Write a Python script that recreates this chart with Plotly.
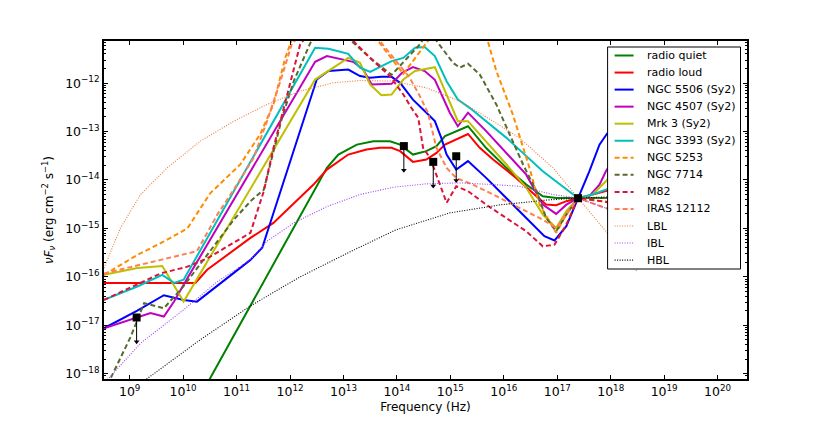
import numpy as np
import plotly.graph_objects as go

# all values are log10(nu / Hz) and log10(nuFnu / erg cm^-2 s^-1)
rq_x = [10.0, 12.69, 12.905, 13.25, 13.56, 13.87, 14.06, 14.30, 14.55, 14.74, 14.90, 15.33, 15.67, 16.05, 16.42, 16.73, 16.98, 17.39, 17.91, 18.3]
rq_y = [-19.1, -13.75, -13.475, -13.27, -13.20, -13.20, -13.27, -13.475, -13.405, -13.30, -13.095, -12.89, -13.34, -13.75, -14.095, -14.335, -14.37, -14.376, -14.37, -14.37]

rl_x = [8.52, 10.23, 10.45, 11.26, 11.69, 12.44, 12.69, 13.09, 13.43, 13.68, 13.90, 14.06, 14.30, 14.55, 14.74, 14.90, 15.33, 15.55, 15.80, 16.23, 16.61, 16.79, 16.98, 17.17, 17.39, 17.66, 17.91, 18.2]
rl_y = [-16.126, -16.126, -15.855, -15.196, -14.886, -14.095, -13.785, -13.475, -13.372, -13.337, -13.337, -13.405, -13.626, -13.578, -13.44, -13.27, -13.05, -13.337, -13.578, -13.957, -14.335, -14.508, -14.52, -14.438, -14.376, -14.30, -14.23, -14.1]

n5506_x = [8.52, 9.144, 9.64, 10.01, 10.26, 11.26, 11.48, 12.50, 12.72, 13.09, 13.31, 13.50, 13.71, 13.90, 14.06, 14.30, 14.49, 14.71, 14.83, 14.93, 15.11, 15.33, 15.67, 16.05, 16.42, 16.76, 16.95, 17.17, 17.39, 17.60, 17.79, 17.94]
n5506_y = [-17.062, -16.698, -16.38, -16.477, -16.512, -15.65, -15.40, -11.926, -11.75, -11.72, -11.855, -11.89, -11.87, -11.87, -11.994, -12.34, -12.545, -12.785, -13.13, -13.475, -13.785, -13.61, -13.957, -14.37, -14.78, -15.16, -15.25, -14.955, -14.376, -13.82, -13.27, -13.03]

n4507_x = [8.52, 9.144, 9.39, 9.64, 9.83, 10.08, 12.47, 12.69, 13.18, 13.37, 13.53, 13.90, 14.09, 14.30, 14.52, 14.71, 14.86, 14.99, 15.14, 15.33, 15.67, 16.05, 16.42, 16.73, 16.98, 17.17, 17.39, 17.60, 17.79, 17.91, 18.1]
n4507_y = [-17.062, -16.835, -16.75, -16.82, -16.51, -16.03, -11.56, -11.44, -11.56, -11.72, -12.03, -12.015, -11.79, -11.67, -11.75, -11.93, -12.30, -12.61, -12.89, -12.61, -12.99, -13.44, -13.89, -14.51, -14.70, -14.51, -14.376, -14.335, -14.095, -13.82, -13.5]

mrk3_x = [8.52, 9.144, 9.61, 10.01, 12.47, 12.75, 13.09, 13.31, 13.50, 13.71, 13.90, 14.12, 14.34, 14.71, 14.93, 15.14, 15.33, 15.67, 16.05, 16.42, 16.73, 16.98, 17.17, 17.39, 17.66, 17.91, 18.1]
mrk3_y = [-15.96, -15.82, -15.775, -16.51, -11.926, -11.72, -11.48, -11.58, -12.03, -12.25, -12.235, -11.926, -11.75, -11.67, -12.235, -12.785, -12.785, -13.20, -13.68, -14.16, -14.715, -14.99, -14.645, -14.376, -14.30, -14.025, -13.8]

n3393_x = [8.52, 9.144, 9.61, 9.83, 10.01, 12.47, 12.72, 13.09, 13.31, 13.50, 13.90, 14.12, 14.34, 14.52, 14.71, 14.93, 15.14, 15.36, 16.05, 16.73, 17.39, 17.66, 17.91, 18.1]
n3393_y = [-16.477, -16.20, -15.96, -16.126, -16.06, -11.27, -11.29, -11.395, -11.68, -11.77, -11.545, -11.48, -11.27, -11.256, -11.44, -11.96, -12.34, -12.51, -13.13, -13.82, -14.376, -14.30, -14.2, -14.1]

n5253_x = [8.52, 9.144, 9.64, 10.08, 10.51, 11.07, 11.44, 11.69, 11.91, 12.2, 13.65, 14.12, 14.58, 15.2, 15.70, 15.86, 16.17, 16.48, 16.67, 16.92, 16.98, 17.17, 17.39, 17.91, 18.2]
n5253_y = [-15.96, -15.548, -15.27, -15.0, -14.27, -13.68, -13.06, -12.44, -11.48, -10.6, -11.13, -11.81, -11.13, -10.5, -11.13, -11.75, -12.65, -13.75, -14.51, -14.99, -15.09, -14.715, -14.376, -14.45, -14.6]

n7714_x = [8.52, 8.645, 9.02, 9.27, 9.64, 10.01, 10.51, 10.95, 11.26, 11.51, 11.85, 12.07, 12.38, 12.8, 13.15, 13.50, 13.90, 14.30, 14.43, 14.6, 14.77, 15.05, 15.175, 15.33, 15.55, 15.86, 16.11, 16.36, 16.61, 16.79, 16.98, 17.17, 17.39, 17.91, 18.2]
n7714_y = [-18.38, -18.095, -17.235, -16.545, -16.65, -16.19, -15.47, -14.82, -14.44, -14.20, -12.717, -11.96, -11.17, -10.6, -11.13, -11.48, -11.83, -11.34, -11.20, -10.9, -11.17, -11.58, -11.68, -11.60, -11.82, -12.44, -13.06, -13.68, -14.23, -14.78, -15.06, -14.715, -14.376, -14.37, -14.37]

m82_x = [8.52, 9.58, 10.08, 10.45, 11.26, 11.51, 11.69, 11.94, 12.19, 12.7, 13.22, 13.56, 13.87, 14.12, 14.27, 14.40, 14.49, 14.62, 14.80, 14.93, 15.11, 15.33, 15.67, 16.05, 16.42, 16.73, 16.95, 17.17, 17.39, 17.91, 18.2]
m82_y = [-16.477, -15.93, -15.79, -15.62, -15.09, -14.23, -13.34, -12.24, -11.20, -10.5, -11.17, -11.545, -11.855, -12.235, -12.51, -12.717, -13.34, -13.54, -14.095, -14.47, -14.13, -14.23, -14.51, -14.78, -15.06, -15.37, -15.335, -14.92, -14.376, -14.45, -14.55]

iras_x = [8.52, 9.08, 9.58, 10.26, 10.64, 11.01, 11.32, 11.57, 11.82, 12.04, 13.0, 13.68, 13.99, 14.24, 14.43, 14.58, 14.74, 14.93, 15.11, 15.42, 15.80, 16.29, 16.73, 16.98, 17.17, 17.39, 17.91, 18.2]
iras_y = [-15.93, -15.79, -15.65, -15.47, -14.715, -14.095, -13.54, -12.785, -11.96, -11.17, -10.3, -11.13, -11.545, -11.89, -12.27, -12.61, -13.34, -13.75, -13.96, -14.095, -14.30, -14.58, -14.82, -14.99, -14.715, -14.376, -14.58, -14.7]

lbl_x = [8.52, 8.83, 9.205, 9.70, 10.32, 10.95, 11.57, 12.19, 12.81, 13.31, 13.93, 14.55, 15.175, 15.80, 16.29, 16.92, 17.39, 17.91, 18.5]
lbl_y = [-15.816, -14.99, -14.30, -13.75, -13.20, -12.785, -12.44, -12.165, -11.994, -11.946, -11.96, -12.097, -12.37, -12.785, -13.13, -13.75, -14.376, -15.06, -15.9]

ibl_x = [8.52, 9.205, 10.01, 10.64, 11.26, 11.57, 12.07, 12.69, 13.31, 13.93, 14.55, 15.175, 15.80, 16.29, 16.92, 17.39, 17.91, 18.4]
ibl_y = [-18.2, -17.37, -16.68, -16.10, -15.65, -15.265, -14.886, -14.55, -14.30, -14.15, -14.08, -14.06, -14.095, -14.13, -14.30, -14.376, -14.58, -14.8]

hbl_x = [9.2, 9.355, 10.32, 11.26, 12.19, 13.12, 13.98, 14.99, 15.92, 16.85, 17.39, 17.92, 18.4]
hbl_y = [-18.2, -18.08, -17.30, -16.60, -16.00, -15.485, -15.03, -14.68, -14.515, -14.41, -14.376, -14.35, -14.35]

# upper limits (square + arrow down) and the normalisation point
ul_x = [9.13, 14.13, 14.68, 15.11]
ul_y = [-16.84, -13.30, -13.626, -13.51]
ul_len = 0.5
norm_x = [17.39]
norm_y = [-14.376]

series = [
    ('radio quiet', rq_x, rq_y, '#008000', 'solid', 2),
    ('radio loud', rl_x, rl_y, '#ff0000', 'solid', 2),
    ('NGC 5506 (Sy2)', n5506_x, n5506_y, '#0000ff', 'solid', 2),
    ('NGC 4507 (Sy2)', n4507_x, n4507_y, '#bf00bf', 'solid', 2),
    ('Mrk 3 (Sy2)', mrk3_x, mrk3_y, '#bfbf00', 'solid', 2),
    ('NGC 3393 (Sy2)', n3393_x, n3393_y, '#00bfbf', 'solid', 2),
    ('NGC 5253', n5253_x, n5253_y, '#ff8c00', '5px,3px', 2),
    ('NGC 7714', n7714_x, n7714_y, '#556b2f', '5px,3px', 2),
    ('M82', m82_x, m82_y, '#dc143c', '5px,3px', 2),
    ('IRAS 12112', iras_x, iras_y, '#ff7f50', '5px,3px', 2),
    ('LBL', lbl_x, lbl_y, '#ee7a35', '1px,1.5px', 1.1),
    ('IBL', ibl_x, ibl_y, '#a040f0', '1px,1.5px', 1.1),
    ('HBL', hbl_x, hbl_y, '#000000', '1px,1.5px', 1.1),
]

fig = go.Figure()
for name, lx, ly, col, dash, w in series:
    fig.add_trace(go.Scatter(x=np.power(10.0, lx), y=np.power(10.0, ly), name=name, mode='lines',
                             line=dict(color=col, dash=dash, width=w), showlegend=False))

# arrows of the upper limits
for ux, uy in zip(ul_x, ul_y):
    fig.add_trace(go.Scatter(x=[10.0 ** ux, 10.0 ** ux], y=[10.0 ** uy, 10.0 ** (uy - ul_len)], mode='lines',
                             line=dict(color='black', width=1), showlegend=False, hoverinfo='skip'))
fig.add_trace(go.Scatter(x=np.power(10.0, ul_x), y=np.power(10.0, np.array(ul_y) - ul_len), mode='markers',
                         marker=dict(symbol='triangle-down', size=5, color='black'), showlegend=False))

fig.add_trace(go.Scatter(x=np.power(10.0, ul_x + norm_x), y=np.power(10.0, ul_y + norm_y), mode='markers',
                         marker=dict(symbol='square', size=8, color='black'), showlegend=False))

# legend box drawn by hand, matplotlib-like (compact rows)
W, H = 822, 414          # page has an 8px body margin, so the figure is kept inside the 830x422 window
ml, mr, mt, mb = 96, 82.5, 33, 43
pw, ph = W - ml - mr, H - mt - mb


def px(x):
    return (x - 8 - ml) / pw


def py(y):
    return 1 - (y - 8 - mt) / ph


fig.add_shape(type='rect', xref='paper', yref='paper', x0=px(608), x1=px(741), y0=py(269), y1=py(47),
              fillcolor='white', line=dict(color='black', width=1), layer='above')
for i, (name, lx, ly, col, dash, w) in enumerate(series):
    yy = 55.5 + i * 17.05
    fig.add_shape(type='line', xref='paper', yref='paper', x0=px(615), x1=px(634), y0=py(yy), y1=py(yy),
                  line=dict(color=col, dash=dash, width=w), layer='above')
    fig.add_annotation(xref='paper', yref='paper', x=px(645), y=py(yy), text=name, showarrow=False,
                       xanchor='left', yanchor='middle', font=dict(size=11, color='black'))

xt = list(range(9, 21))
yt = list(range(-18, -11))
minor_y = [k * 10.0 ** e for e in range(-19, -11) for k in range(2, 10)]

axis_common = dict(type='log', showline=True, linecolor='black', linewidth=2, mirror='allticks',
                   ticks='inside', ticklen=4, tickwidth=1, tickcolor='black', showgrid=False, zeroline=False,
                   automargin=False, tickfont=dict(family='DejaVu Sans', size=12.5, color='black'))

fig.update_layout(
    width=W, height=H,
    margin=dict(l=ml, r=mr, t=mt, b=mb),
    paper_bgcolor='white', plot_bgcolor='white',
    font=dict(family='DejaVu Sans', size=12, color='black'),
    xaxis=dict(axis_common, range=[8.52, 20.55], tickvals=[10.0 ** v for v in xt],
               ticktext=[f'10<sup>{v}</sup>' for v in xt],
               title=dict(text='Frequency (Hz)', standoff=5, font=dict(size=12))),
    yaxis=dict(axis_common, range=[-18.11, -11.13], tickvals=[10.0 ** v for v in yt],
               ticktext=[f'10<sup>−{-v}</sup>' for v in yt],
               minor=dict(tickmode='array', tickvals=minor_y, ticks='inside', ticklen=2, tickcolor='black'),
               title=dict(text='<i>νF<sub>ν</sub></i> (erg cm<sup>−2</sup> s<sup>−1</sup>)', standoff=9,
                          font=dict(size=12))),
    showlegend=False,
)

fig.write_html("out.html")
